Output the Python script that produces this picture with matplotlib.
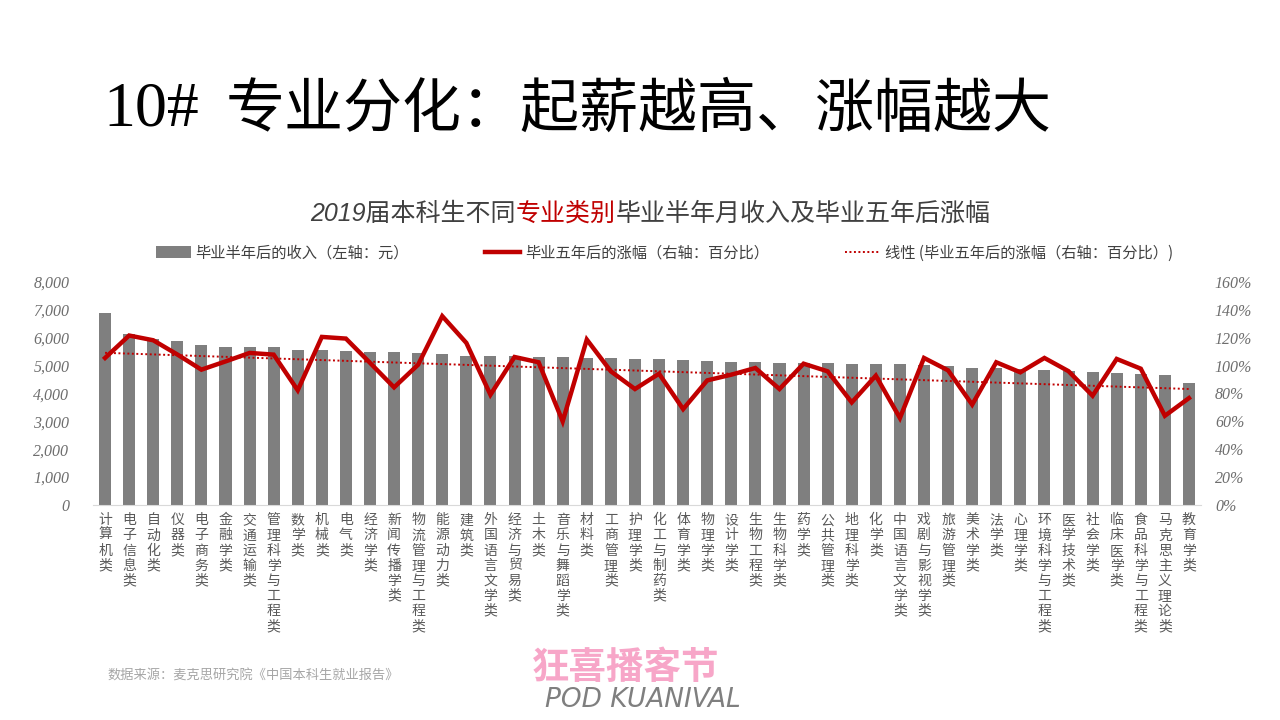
"""Salary vs. 5-year growth by major category (2019 graduates)."""

import numpy as np
import matplotlib
matplotlib.use("Agg")
import matplotlib.pyplot as plt
from matplotlib.lines import Line2D
from matplotlib.patches import Patch

plt.rcParams["font.family"] = ["Noto Sans CJK SC", "DejaVu Sans"]
plt.rcParams["axes.unicode_minus"] = False

CATEGORIES = [
    "计算机类", "电子信息类", "自动化类", "仪器类", "电子商务类", "金融学类",
    "交通运输类", "管理科学与工程类", "数学类", "机械类", "电气类", "经济学类",
    "新闻传播学类", "物流管理与工程类", "能源动力类", "建筑类", "外国语言文学类",
    "经济与贸易类", "土木类", "音乐与舞蹈学类", "材料类", "工商管理类", "护理学类",
    "化工与制药类", "体育学类", "物理学类", "设计学类", "生物工程类", "生物科学类",
    "药学类", "公共管理类", "地理科学类", "化学类", "中国语言文学类", "戏剧与影视学类",
    "旅游管理类", "美术学类", "法学类", "心理学类", "环境科学与工程类", "医学技术类",
    "社会学类", "临床医学类", "食品科学与工程类", "马克思主义理论类", "教育学类",
]

# monthly income half a year after graduation (yuan)
INCOME = [
    6880, 6150, 5960, 5875, 5755, 5660, 5660, 5660, 5575, 5550, 5515, 5480,
    5480, 5470, 5430, 5360, 5360, 5360, 5310, 5310, 5275, 5275, 5240, 5240,
    5205, 5170, 5130, 5130, 5095, 5095, 5095, 5065, 5065, 5065, 5035, 5000,
    4930, 4930, 4890, 4855, 4820, 4785, 4750, 4710, 4675, 4390,
]

# salary growth five years after graduation (%)
GROWTH = [
    105.5, 121.6, 118.2, 108.0, 97.1, 103.0, 109.1, 107.9, 82.3, 120.6, 119.4, 102.0,
    84.4, 100.7, 135.5, 116.3, 79.1, 106.2, 102.4, 60.0, 118.7, 95.9, 83.2, 94.2,
    68.8, 89.4, 93.5, 98.3, 83.2, 101.4, 95.9, 73.6, 92.8, 62.4, 105.5, 96.6,
    72.0, 102.4, 95.2, 105.5, 96.0, 78.4, 104.8, 97.8, 64.0, 76.7,
]

LEFT_TICKS = [0, 1000, 2000, 3000, 4000, 5000, 6000, 7000, 8000]
RIGHT_TICKS = [0, 20, 40, 60, 80, 100, 120, 140, 160]

BAR = "#7F7F7F"
RED = "#C00000"
INK = "#404040"
MUTED = "#595959"
TICK = "#6E6E6E"


def main() -> None:
    fig = plt.figure(figsize=(12.8, 7.2), dpi=100)
    fig.patch.set_facecolor("white")

    ax = fig.add_axes([93 / 1280, 1 - 505 / 720, 1108 / 1280, 223 / 720])
    x = np.arange(len(CATEGORIES))
    ax.bar(x, INCOME, width=0.5, color=BAR, zorder=2)
    ax.set_xlim(-0.5, len(CATEGORIES) - 0.5)
    ax.set_ylim(0, 8000)
    ax.set_yticks(LEFT_TICKS)
    ax.set_yticklabels([f"{v:,}" for v in LEFT_TICKS], family="Liberation Serif",
                       style="italic", fontsize=11.5, color=TICK)
    ax.set_xticks(x)
    ax.set_xticklabels(["\n".join(c) for c in CATEGORIES], fontsize=10,
                       color=MUTED, linespacing=1.1, va="top", ha="center")
    ax.tick_params(axis="both", length=0)
    ax.tick_params(axis="x", pad=6)
    ax.tick_params(axis="y", pad=17)
    for side in ("top", "right", "left"):
        ax.spines[side].set_visible(False)
    ax.spines["bottom"].set_color("#D9D9D9")

    ax2 = ax.twinx()
    ax2.plot(x, GROWTH, color=RED, linewidth=3.2, solid_joinstyle="miter", zorder=3)
    coef = np.polyfit(x, GROWTH, 1)
    ax2.plot(x, np.polyval(coef, x), color=RED, linewidth=1.4, linestyle=(0, (1, 1.3)), zorder=3)
    ax2.set_ylim(0, 160)
    ax2.set_yticks(RIGHT_TICKS)
    ax2.set_yticklabels([f"{v}%" for v in RIGHT_TICKS], family="Liberation Serif",
                        style="italic", fontsize=11.5, color=TICK)
    ax2.tick_params(axis="y", length=0, pad=10)
    for side in ("top", "right", "left", "bottom"):
        ax2.spines[side].set_visible(False)

    # main title: serif number, CJK headline
    y_head = 1 - 110 / 720
    fig.text(103 / 1280, y_head, "10#", family="Liberation Serif", fontsize=46,
             color="black", va="center", ha="left")
    fig.text(226 / 1280, y_head, "专业分化：起薪越高、涨幅越大", fontsize=42.5,
             fontweight="medium", color="black", va="center", ha="left")

    # chart title with red highlight, laid out piece by piece
    parts = [("2019届本科生不同", INK), ("专业类别", RED), ("毕业半年月收入及毕业五年后涨幅", INK)]
    renderer = fig.canvas.get_renderer()
    y_title = 1 - 214 / 720
    cursor = 0.0
    texts = []
    for s, col in parts:
        t = fig.text(cursor, y_title, s, family=["Liberation Sans", "Noto Sans CJK SC"],
                     style="italic", fontsize=18, color=col, va="center", ha="left")
        w = t.get_window_extent(renderer).width / fig.bbox.width
        texts.append((t, cursor))
        cursor += w
    shift = 0.5 * 1300 / 1280 - cursor / 2
    for t, pos in texts:
        t.set_x(pos + shift)

    handles = [
        Patch(facecolor=BAR, edgecolor="none"),
        Line2D([], [], color=RED, linewidth=3.2),
        Line2D([], [], color=RED, linewidth=1.4, linestyle=(0, (1, 1.3))),
    ]
    labels = [
        "毕业半年后的收入（左轴：元）",
        "毕业五年后的涨幅（右轴：百分比）",
        "线性 (毕业五年后的涨幅（右轴：百分比）)",
    ]
    fig.legend(handles, labels, loc="center", bbox_to_anchor=(0.519, 1 - 253 / 720),
               ncol=3, frameon=False, fontsize=11, labelcolor=INK,
               handlelength=2.3, handleheight=0.8, handletextpad=0.3, columnspacing=5.0)

    fig.text(107 / 1280, 1 - 676 / 720, "数据来源：麦克思研究院《中国本科生就业报告》",
             fontsize=9.5, color="#A6A6A6", style="italic", va="center", ha="left")

    # podcast logo
    fig.text(626 / 1280, 1 - 668 / 720, "狂喜播客节", fontsize=27, fontweight="heavy",
             color="#F7A6C8", va="center", ha="center")
    fig.text(643 / 1280, 1 - 700 / 720, "POD KUANIVAL", family="DejaVu Sans",
             style="oblique", fontsize=19, color="#7F7F7F", va="center", ha="center")

    fig.savefig("out.png", dpi=100, facecolor="white")
    plt.close(fig)


if __name__ == "__main__":
    main()
